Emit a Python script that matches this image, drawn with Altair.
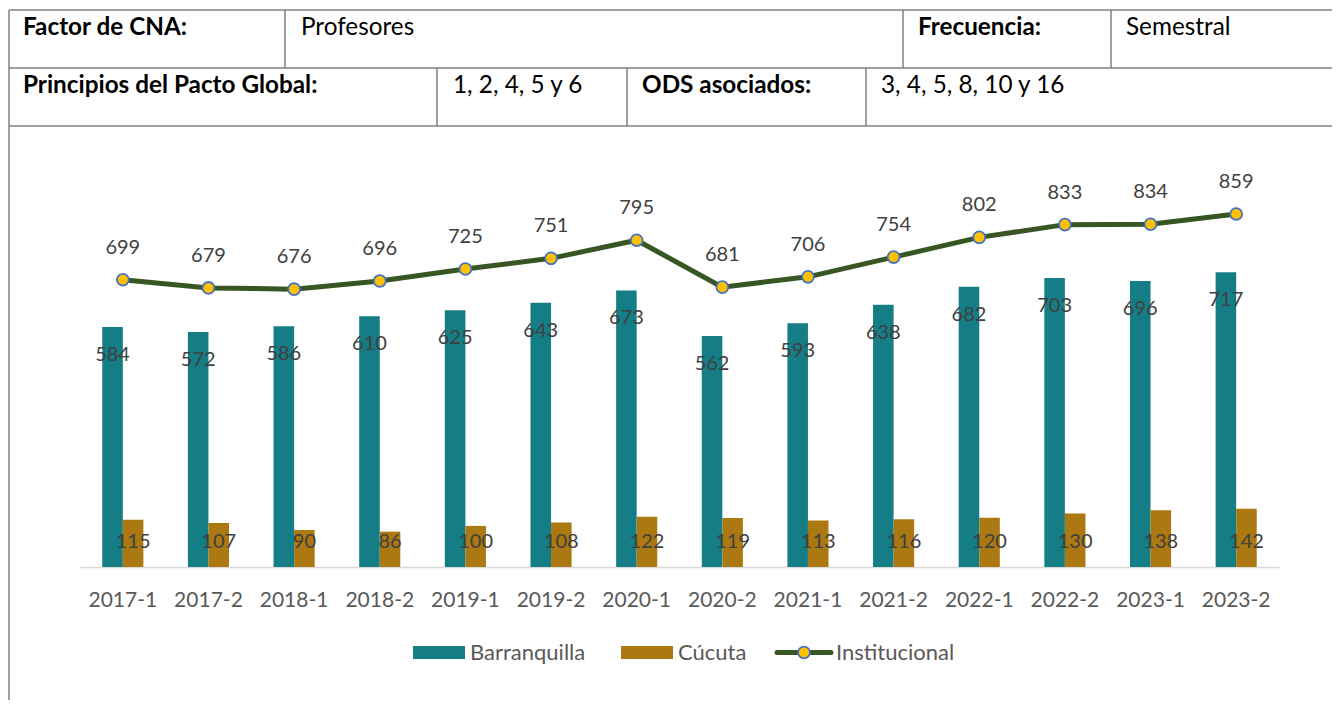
import altair as alt
import pandas as pd

# ---------------- data ----------------
periods = ["2017-1", "2017-2", "2018-1", "2018-2", "2019-1", "2019-2", "2020-1",
           "2020-2", "2021-1", "2021-2", "2022-1", "2022-2", "2023-1", "2023-2"]
barranquilla = [584, 572, 586, 610, 625, 643, 673, 562, 593, 638, 682, 703, 696, 717]
cucuta = [115, 107, 90, 86, 100, 108, 122, 119, 113, 116, 120, 130, 138, 142]
institucional = [699, 679, 676, 696, 725, 751, 795, 681, 706, 754, 802, 833, 834, 859]
sedes = ["Barranquilla", "Cúcuta"]

bars_df = pd.DataFrame(
    [{"periodo": p, "sede": "Barranquilla", "valor": v} for p, v in zip(periods, barranquilla)]
    + [{"periodo": p, "sede": "Cúcuta", "valor": v} for p, v in zip(periods, cucuta)]
)
line_df = pd.DataFrame({"periodo": periods, "valor": institucional})

# ---------------- styles ----------------
TEAL = "#157D85"
GOLD = "#AB7811"
GREEN = "#375623"
YELLOW = "#FFC000"
BLUE = "#4472C4"
BORDER = "#808080"
FONT = "Lato"

# plot origin on the page (8px page margin + chart padding)
OX, OY = 80, 156

x_enc = alt.X("periodo:N", sort=periods,
              scale=alt.Scale(paddingInner=0.52, paddingOuter=0.26),
              axis=alt.Axis(title=None, labelAngle=0, ticks=False, domainColor="#D9D9D9",
                            domainWidth=1.5, labelFont=FONT, labelFontSize=21,
                            labelColor="#595959", labelPadding=22))
y_scale = alt.Scale(domain=[0, 1000], nice=False, zero=True)
xoff = alt.XOffset("sede:N", sort=sedes, scale=alt.Scale(paddingInner=0, paddingOuter=0))

one = alt.Data(values=[{}])


def hrule(x1, x2, y):
    return alt.Chart(one).mark_rule(color=BORDER, strokeWidth=1.5).encode(
        x=alt.value(x1 - OX), x2=alt.value(x2 - OX), y=alt.value(y - OY))


def vrule(x, y1, y2):
    return alt.Chart(one).mark_rule(color=BORDER, strokeWidth=1.5).encode(
        x=alt.value(x - OX), y=alt.value(y1 - OY), y2=alt.value(y2 - OY))


def txt(text, x, y, bold=False, size=24.3, color="black"):
    return alt.Chart(one).mark_text(text=text, align="left", baseline="alphabetic", font=FONT,
                                    fontSize=size, fontWeight="bold" if bold else "normal",
                                    color=color).encode(
        x=alt.value(x - OX), y=alt.value(y - OY))


table = [
    hrule(9, 1332, 10), hrule(9, 1332, 68), hrule(9, 1332, 126),
    vrule(9, 10, 700),
    vrule(285, 10, 68), vrule(903, 10, 68), vrule(1111, 10, 68),
    vrule(437, 68, 126), vrule(627, 68, 126), vrule(866, 68, 126),
    txt("Factor de CNA:", 23, 35, bold=True), txt("Profesores", 301, 35),
    txt("Frecuencia:", 918, 35, bold=True), txt("Semestral", 1126, 35),
    txt("Principios del Pacto Global:", 23, 93, bold=True), txt("1, 2, 4, 5 y 6", 453, 93),
    txt("ODS asociados:", 642, 93, bold=True), txt("3, 4, 5, 8, 10 y 16", 881, 93),
]

base_bars = alt.Chart(bars_df)
bars = base_bars.mark_bar().encode(
    x=x_enc, xOffset=xoff,
    y=alt.Y("valor:Q", scale=y_scale, axis=None),
    color=alt.Color("sede:N", scale=alt.Scale(domain=sedes, range=[TEAL, GOLD]), legend=None),
)
lab_b = base_bars.transform_filter(alt.datum.sede == "Barranquilla").mark_text(
    baseline="middle", dy=28, font=FONT, fontSize=20, color="#404040").encode(
    x=alt.X("periodo:N", sort=periods), xOffset=xoff, y="valor:Q", text="valor:Q")
lab_c = base_bars.transform_filter(alt.datum.sede == "Cúcuta").mark_text(
    baseline="middle", dy=-25, font=FONT, fontSize=20, color="#404040").encode(
    x=alt.X("periodo:N", sort=periods), xOffset=xoff, y=alt.datum(0), text="valor:Q")

base_line = alt.Chart(line_df)
line = base_line.mark_line(color=GREEN, strokeWidth=5).encode(
    x=alt.X("periodo:N", sort=periods), y="valor:Q")
pts = base_line.mark_point(shape="circle", filled=True, fill=YELLOW, stroke=BLUE,
                           strokeWidth=1.8, size=140, opacity=1).encode(
    x=alt.X("periodo:N", sort=periods), y="valor:Q")
lab_l = base_line.mark_text(baseline="middle", dy=-32, font=FONT, fontSize=20,
                            color="#404040").encode(
    x=alt.X("periodo:N", sort=periods), y="valor:Q", text="valor:Q")

LY = 652.5
legend = [
    alt.Chart(one).mark_rect(color=TEAL).encode(
        x=alt.value(413 - OX), x2=alt.value(465 - OX),
        y=alt.value(646 - OY), y2=alt.value(659 - OY)),
    txt("Barranquilla", 470, 660, size=22, color="#595959"),
    alt.Chart(one).mark_rect(color=GOLD).encode(
        x=alt.value(621 - OX), x2=alt.value(673 - OX),
        y=alt.value(646 - OY), y2=alt.value(659 - OY)),
    txt("Cúcuta", 678, 660, size=22, color="#595959"),
    alt.Chart(one).mark_rule(color=GREEN, strokeWidth=5, strokeCap="round").encode(
        x=alt.value(777 - OX), x2=alt.value(831 - OX), y=alt.value(LY - OY)),
    alt.Chart(one).mark_point(shape="circle", filled=True, fill=YELLOW, stroke=BLUE,
                              strokeWidth=1.8, size=140, opacity=1).encode(
        x=alt.value(804 - OX), y=alt.value(LY - OY)),
    txt("Institucional", 836, 660, size=22, color="#595959"),
]

chart = alt.layer(*table, bars, lab_b, lab_c, line, pts, lab_l, *legend).properties(
    width=1199, height=411,
    padding={"left": 72, "top": 148, "right": 53, "bottom": 133},
    autosize=alt.AutoSizeParams(type="none"),
    background="white",
).configure_view(stroke=None)

chart.save("out.html", embed_options={"renderer": "svg", "actions": False})
